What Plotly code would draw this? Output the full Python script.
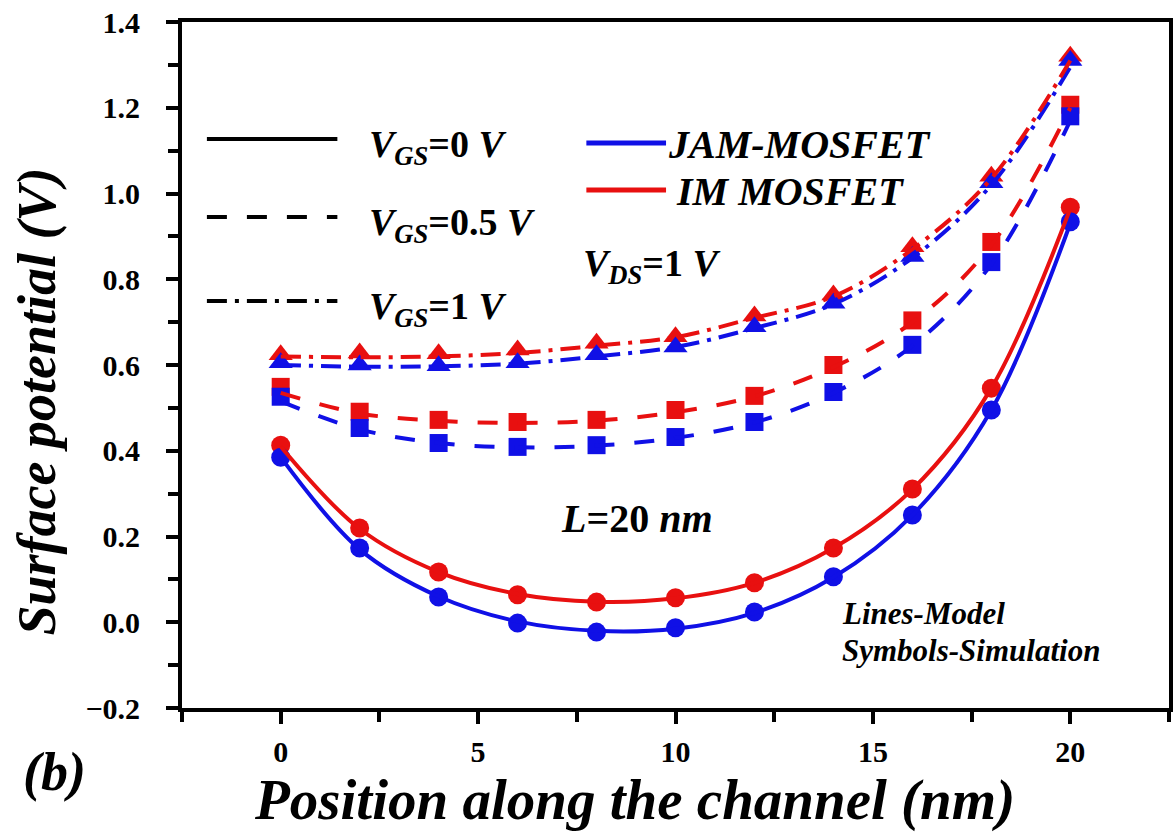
import plotly.graph_objects as go

# Position along the channel (nm)
position = [0, 2, 4, 6, 8, 10, 12, 14, 16, 18, 20]

# Simulation (symbols)
sim_jam_vgs0 = [0.385, 0.173, 0.059, -0.002, -0.023, -0.013, 0.024, 0.106, 0.250, 0.495, 0.934]
sim_im_vgs0 = [0.413, 0.220, 0.117, 0.064, 0.047, 0.057, 0.092, 0.173, 0.311, 0.546, 0.968]
sim_jam_vgs05 = [0.526, 0.453, 0.418, 0.409, 0.413, 0.432, 0.467, 0.537, 0.647, 0.840, 1.180]
sim_im_vgs05 = [0.549, 0.491, 0.472, 0.467, 0.472, 0.495, 0.528, 0.600, 0.704, 0.887, 1.207]
sim_jam_vgs1 = [0.605, 0.600, 0.598, 0.605, 0.624, 0.642, 0.689, 0.744, 0.853, 1.025, 1.310]
sim_im_vgs1 = [0.624, 0.628, 0.626, 0.635, 0.651, 0.666, 0.714, 0.763, 0.876, 1.040, 1.320]

# Model (lines)
mod_jam_vgs0 = [0.385, 0.170, 0.060, 0.002, -0.020, -0.015, 0.022, 0.105, 0.250, 0.495, 0.930]
mod_im_vgs0 = [0.410, 0.218, 0.117, 0.066, 0.048, 0.056, 0.092, 0.173, 0.310, 0.546, 0.965]
mod_jam_vgs05 = [0.515, 0.450, 0.418, 0.408, 0.412, 0.430, 0.466, 0.535, 0.645, 0.835, 1.170]
mod_im_vgs05 = [0.535, 0.487, 0.470, 0.465, 0.470, 0.490, 0.527, 0.595, 0.700, 0.880, 1.200]
mod_jam_vgs1 = [0.600, 0.596, 0.597, 0.603, 0.620, 0.642, 0.686, 0.742, 0.850, 1.020, 1.295]
mod_im_vgs1 = [0.620, 0.618, 0.620, 0.628, 0.645, 0.665, 0.710, 0.760, 0.870, 1.035, 1.310]

BLUE = "#1010e6"
RED = "#e81010"
FONT = "Times New Roman"

W, H = 1176, 834
L, R, T, B = 182, 1173, 22, 708


def px(x):
    return (x - L) / (R - L)


def py(y):
    return (B - y) / (B - T)


fig = go.Figure()

sims = [
    (sim_im_vgs0, RED, "circle", 19),
    (sim_jam_vgs0, BLUE, "circle", 19),
    (sim_im_vgs05, RED, "square", 18),
    (sim_jam_vgs05, BLUE, "square", 18),
    (sim_im_vgs1, RED, "triangle-up", 21),
    (sim_jam_vgs1, BLUE, "triangle-up", 21),
]
for ys, col, sym, size in sims:
    fig.add_trace(go.Scatter(
        x=position, y=ys, mode="markers",
        marker=dict(symbol=sym, size=size, color=col),
        showlegend=False))

models = [
    (mod_jam_vgs0, BLUE, "solid"),
    (mod_im_vgs0, RED, "solid"),
    (mod_jam_vgs05, BLUE, "longdash"),
    (mod_im_vgs05, RED, "longdash"),
    (mod_jam_vgs1, BLUE, "longdashdot"),
    (mod_im_vgs1, RED, "longdashdot"),
]
for ys, col, dash in models:
    fig.add_trace(go.Scatter(
        x=position, y=ys, mode="lines",
        line=dict(color=col, width=4, dash=dash, shape="spline", smoothing=1.0),
        showlegend=False))

# Legend key samples, drawn on a hidden overlay axis pair measured in pixels
keys = [
    ((207, 338), 139, "black", 4, "solid"),
    ((207, 338), 217, "black", 4, "longdash"),
    ((207, 338), 301, "black", 4, "longdashdot"),
    ((588, 668), 143, BLUE, 5, "solid"),
    ((588, 668), 190, RED, 5, "solid"),
]
for (xa, xb), y, col, lw, dash in keys:
    fig.add_trace(go.Scatter(
        x=[xa, xb], y=[y, y], mode="lines", xaxis="x2", yaxis="y2",
        line=dict(color=col, width=lw, dash=dash),
        showlegend=False))


def note(text, x, y, size, xanchor="left", angle=0):
    return dict(text=text, xref="paper", yref="paper", x=px(x), y=py(y),
                xanchor=xanchor, yanchor="middle", showarrow=False,
                textangle=angle,
                font=dict(family=FONT, size=size, color="black", weight="bold"))


annotations = [
    note("<i>V</i><sub><i>GS</i></sub>=0 <i>V</i>", 368, 147, 38),
    note("<i>V</i><sub><i>GS</i></sub>=0.5 <i>V</i>", 368, 225, 38),
    note("<i>V</i><sub><i>GS</i></sub>=1 <i>V</i>", 368, 309, 38),
    note("<i>JAM-MOSFET</i>", 668, 145, 40),
    note("<i>IM MOSFET</i>", 676, 191, 40),
    note("<i>V</i><sub><i>DS</i></sub>=1 <i>V</i>", 583, 266, 38),
    note("<i>L</i>=20 <i>nm</i>", 639, 518, 40, xanchor="center"),
    note("<i>Lines-Model</i>", 843, 613, 31),
    note("<i>Symbols-Simulation</i>", 843, 650, 31),
    note("<i>Surface potential (V)</i>", 36, 402, 54, xanchor="center", angle=-90),
    note("<i>Position along the channel (nm)</i>", 636, 800, 57, xanchor="center"),
    note("<i>(b)</i>", 54, 772, 54, xanchor="center"),
]

tickfont = dict(family=FONT, size=30, color="black", weight="bold")

fig.update_layout(
    width=W, height=H,
    margin=dict(l=L, r=W - R, t=T, b=H - B, pad=0),
    paper_bgcolor="white", plot_bgcolor="white",
    font=dict(family=FONT, color="black"),
    annotations=annotations,
    showlegend=False,
    xaxis=dict(
        range=[-2.5, 22.5], tick0=0, dtick=5,
        ticks="outside", ticklen=12, tickwidth=4, tickcolor="black",
        minor=dict(tick0=-2.5, dtick=2.5, ticks="outside", ticklen=10,
                   tickwidth=4, tickcolor="black"),
        showline=True, linewidth=4, linecolor="black", mirror=True,
        showgrid=False, zeroline=False, tickfont=tickfont,
        ticklabelstandoff=2,
    ),
    yaxis=dict(
        range=[-0.2, 1.4], tick0=-0.2, dtick=0.2, tickformat=".1f",
        ticks="outside", ticklen=12, tickwidth=4, tickcolor="black",
        minor=dict(tick0=-0.2, dtick=0.1, ticks="outside", ticklen=10,
                   tickwidth=4, tickcolor="black"),
        showline=True, linewidth=4, linecolor="black", mirror=True,
        showgrid=False, zeroline=False, tickfont=tickfont,
        ticklabelstandoff=20,
    ),
    xaxis2=dict(range=[L, R], overlaying="x", anchor="y2", visible=False,
                showgrid=False, zeroline=False),
    yaxis2=dict(range=[B, T], overlaying="y", anchor="x2", visible=False,
                showgrid=False, zeroline=False),
)

fig.write_html("out.html")
